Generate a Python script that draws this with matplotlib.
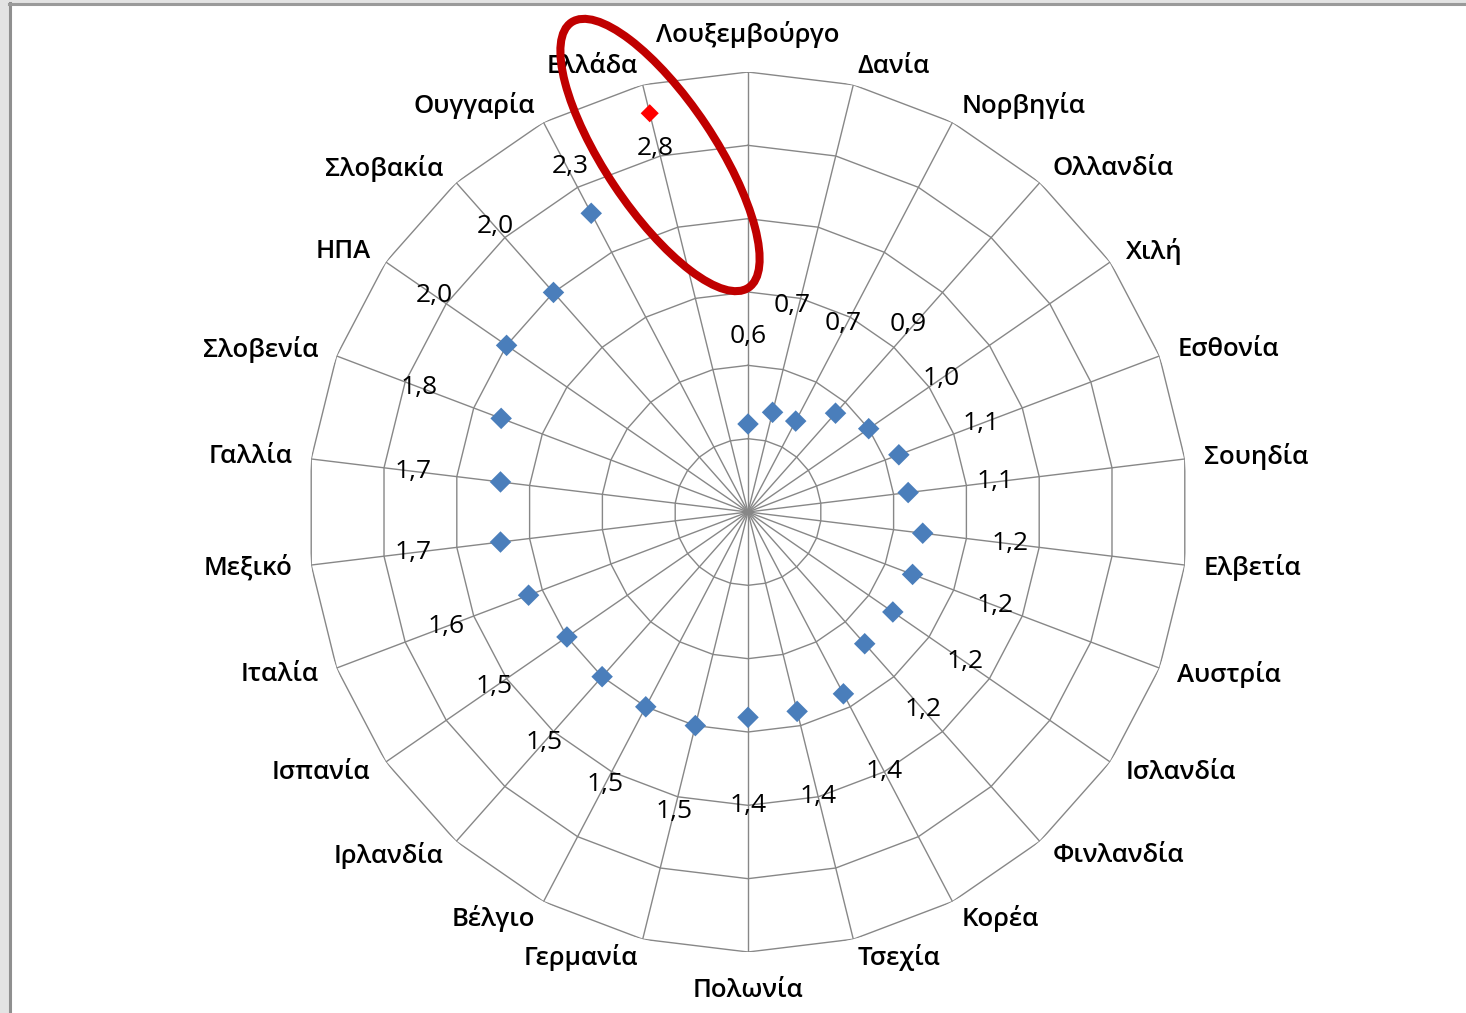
import numpy as np
import matplotlib.pyplot as plt
from matplotlib.patches import Ellipse, Rectangle

plt.rcParams['font.family'] = ['Open Sans', 'DejaVu Sans']

# χώρες με τη σειρά του γραφήματος (δεξιόστροφα από πάνω)
countries = ['Λουξεμβούργο', 'Δανία', 'Νορβηγία', 'Ολλανδία', 'Χιλή', 'Εσθονία',
             'Σουηδία', 'Ελβετία', 'Αυστρία', 'Ισλανδία', 'Φινλανδία', 'Κορέα',
             'Τσεχία', 'Πολωνία', 'Γερμανία', 'Βέλγιο', 'Ιρλανδία', 'Ισπανία',
             'Ιταλία', 'Μεξικό', 'Γαλλία', 'Σλοβενία', 'ΗΠΑ', 'Σλοβακία',
             'Ουγγαρία', 'Ελλάδα']
values = [0.6, 0.7, 0.7, 0.9, 1.0, 1.1, 1.1, 1.2, 1.2, 1.2, 1.2, 1.4, 1.4,
          1.4, 1.5, 1.5, 1.5, 1.5, 1.6, 1.7, 1.7, 1.8, 2.0, 2.0, 2.3, 2.8]
highlight = 'Ελλάδα'
ring_levels = [0.5, 1.0, 1.5, 2.0, 2.5, 3.0]
r_max = 3.0

W, H = 1466, 1013
cx, cy, R = 748, 512, 440   # κέντρο και ακτίνα του ιστού σε pixel

GRID = '#878787'
BLUE = '#4A7EBB'
RED = '#FF0000'

fig = plt.figure(figsize=(W / 100, H / 100), dpi=100)
fig.patch.set_facecolor('white')

ax = fig.add_axes([(cx - R) / W, (H - cy - R) / H, 2 * R / W, 2 * R / H],
                  projection='polar')
ax.set_theta_zero_location('N')
ax.set_theta_direction(-1)
ax.set_ylim(0, r_max)
ax.axis('off')

n = len(countries)
theta = 2 * np.pi * np.arange(n) / n
closed = np.append(theta, theta[0])

# πολυγωνικοί δακτύλιοι και ακτίνες
for lv in ring_levels:
    ax.plot(closed, [lv] * (n + 1), color=GRID, lw=1.0, zorder=1)
for t in theta:
    ax.plot([t, t], [0, r_max], color=GRID, lw=1.0, zorder=1)

# σημεία
colors = [RED if c == highlight else BLUE for c in countries]
sizes = [85 if c == highlight else 120 for c in countries]
ax.scatter(theta, values, marker='D', s=sizes, c=colors, edgecolors='none',
           zorder=3, clip_on=False)

# ετικέτες τιμών: (μετατόπιση γωνίας σε μοίρες, μετατόπιση ακτίνας)
label_shift = {
    'Δανία': (-1.8, 0.14),
    'Νορβηγία': (-1.0, 0.14),
    'Ολλανδία': (-1.1, 0.18),
    'Ουγγαρία': (0.5, -0.25),
    'Ελλάδα': (-0.4, -0.84),
}
for c, t, v in zip(countries, theta, values):
    dth, dr = label_shift.get(c, (0.0, 0.0))
    ax.text(t + np.deg2rad(dth), v + 0.6 + dr, f'{v:.1f}'.replace('.', ','),
            ha='center', va='center', fontsize=19, color='black',
            zorder=4, clip_on=False)

# ονόματα χωρών έξω από τον ιστό
for c, t in zip(countries, theta):
    s, co = np.sin(t), np.cos(t)
    if abs(s) < 0.1:
        off = (0, 38 * 0.72 * np.sign(co))
        ha = 'center'
    else:
        off = (19 * 0.72 * s, 19 * 0.72 * co)
        ha = 'left' if s > 0 else 'right'
    ax.annotate(c, xy=(t, r_max), xytext=off, textcoords='offset points',
                ha=ha, va='center', fontsize=18.5, fontweight='semibold',
                color='black', annotation_clip=False)

# επικάλυψη σε pixel για πλαίσιο και έλλειψη
ov = fig.add_axes([0, 0, 1, 1])
ov.set_xlim(0, W)
ov.set_ylim(H, 0)
ov.axis('off')
ov.add_patch(Rectangle((0, 0), 9, H, facecolor='#e3e3e3', edgecolor='none'))
ov.add_patch(Rectangle((0, 0), W, 2.5, facecolor='#e3e3e3', edgecolor='none'))
ov.plot([10, 10], [3, H], color='#8f8f8f', lw=2.2)
ov.plot([9, W], [4, 4], color='#9a9a9a', lw=2.2)
ov.add_patch(Ellipse((660, 155), 319, 110, angle=56.3, fill=False,
                     edgecolor='#C00000', lw=5.8))

fig.savefig('out.png', dpi=100)
